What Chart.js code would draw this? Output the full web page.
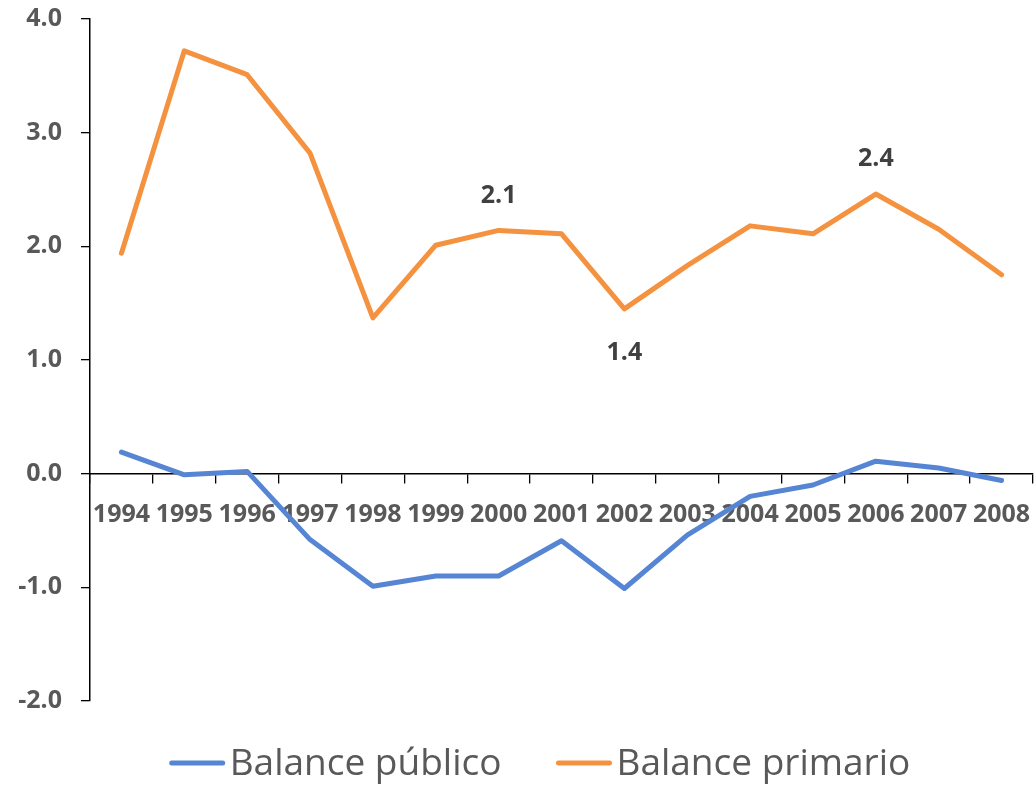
<!DOCTYPE html>
<html>
<head>
<meta charset="utf-8">
<script src="https://cdn.jsdelivr.net/npm/chart.js@4.4.1/dist/chart.umd.min.js"></script>
<style>
  html, body { margin: 0; padding: 0; background: #ffffff; }
  #wrap { width: 1036px; height: 788px; position: relative; }
</style>
</head>
<body>
<div id="wrap"><canvas id="c" width="1036" height="788"></canvas></div>
<script>
const years = ['1994','1995','1996','1997','1998','1999','2000','2001','2002','2003','2004','2005','2006','2007','2008'];
const balancePublico = [0.19, -0.01, 0.02, -0.58, -0.99, -0.90, -0.90, -0.59, -1.01, -0.54, -0.20, -0.10, 0.11, 0.05, -0.06];
const balancePrimario = [1.94, 3.72, 3.51, 2.82, 1.37, 2.01, 2.14, 2.11, 1.45, 1.83, 2.18, 2.11, 2.46, 2.15, 1.75];
const seriesNames = ['Balance público', 'Balance primario'];
const yTicks = [-2, -1, 0, 1, 2, 3, 4];
const labelIndices = [6, 8, 12];
const labelTexts = ['2.1', '1.4', '2.4'];
const labelSides = ['above', 'below', 'above'];

const BLUE = '#5585D3';
const ORANGE = '#F4923F';
const AXIS_TEXT = '#595959';
const LEFT_PAD = 4;

const dataLabelPlugin = {
  id: 'dataLabels',
  afterDatasetsDraw(chart) {
    const meta = chart.getDatasetMeta(1);
    const ctx = chart.ctx;
    ctx.save();
    ctx.font = 'bold 25px "Open Sans"';
    ctx.fillStyle = '#404040';
    ctx.textAlign = 'center';
    ctx.textBaseline = 'middle';
    labelIndices.forEach((idx, k) => {
      const pt = meta.data[idx];
      const dy = labelSides[k] === 'above' ? -35 : 44;
      ctx.fillText(labelTexts[k], pt.x, pt.y + dy);
    });
    ctx.restore();
  }
};

// Legend drawn from the chart's own datasets (label + colour)
const legendPlugin = {
  id: 'bottomLegend',
  afterDraw(chart) {
    const ctx = chart.ctx;
    const ds = chart.data.datasets;
    const lineLen = 55, gapText = 5, gapItem = 55;
    ctx.save();
    ctx.font = '37px "Open Sans"';
    const widths = ds.map(d => ctx.measureText(d.label).width);
    const total = widths.reduce((s, w) => s + lineLen + gapText + w, 0) + gapItem * (ds.length - 1);
    let x = chart.width / 2 + 22 - total / 2;
    const y = 763;
    ds.forEach((d, i) => {
      ctx.strokeStyle = d.borderColor;
      ctx.lineWidth = 5;
      ctx.lineCap = 'round';
      ctx.beginPath();
      ctx.moveTo(x + 2, y);
      ctx.lineTo(x + lineLen - 2, y);
      ctx.stroke();
      ctx.fillStyle = AXIS_TEXT;
      ctx.textAlign = 'left';
      ctx.textBaseline = 'middle';
      ctx.fillText(d.label, x + lineLen + gapText, y + 1);
      x += lineLen + gapText + widths[i] + gapItem;
    });
    ctx.restore();
  }
};

new Chart(document.getElementById('c'), {
  type: 'line',
  data: {
    labels: years,
    datasets: [
      { label: seriesNames[0], data: balancePublico, borderColor: BLUE, backgroundColor: BLUE, borderWidth: 5, pointRadius: 0, tension: 0, borderJoinStyle: 'round', borderCapStyle: 'round' },
      { label: seriesNames[1], data: balancePrimario, borderColor: ORANGE, backgroundColor: ORANGE, borderWidth: 5, pointRadius: 0, tension: 0, borderJoinStyle: 'round', borderCapStyle: 'round' }
    ]
  },
  options: {
    responsive: false,
    animation: false,
    devicePixelRatio: 1,
    layout: { padding: { left: LEFT_PAD, right: 3, top: 19, bottom: 87 } },
    plugins: {
      tooltip: { enabled: false },
      legend: { display: false }
    },
    scales: {
      x: {
        type: 'category',
        position: { y: 0 },
        offset: true,
        afterFit(scale) { scale.paddingLeft = 0; scale.paddingRight = 0; },
        grid: { display: true, offset: true, drawOnChartArea: false, drawTicks: true, tickLength: 9, color: '#000', lineWidth: 1.3 },
        border: { display: true, color: '#000', width: 1.5 },
        ticks: { autoSkip: false, maxRotation: 0, minRotation: 0, padding: 17, color: AXIS_TEXT, font: { family: '"Open Sans"', size: 25, weight: 'bold' } }
      },
      y: {
        min: -2, max: 4,
        afterBuildTicks(scale) { scale.ticks = yTicks.map(v => ({ value: v })); },
        afterFit(scale) { scale.width = 90 - LEFT_PAD; scale.paddingTop = 0; scale.paddingBottom = 0; },
        grid: { display: true, drawOnChartArea: false, drawTicks: true, tickLength: 9, color: '#000', lineWidth: 1.3 },
        border: { display: true, color: '#000', width: 1.5 },
        ticks: { padding: 19, color: AXIS_TEXT, font: { family: '"Open Sans"', size: 25, weight: 'bold' }, callback: v => Number(v).toFixed(1) }
      }
    }
  },
  plugins: [dataLabelPlugin, legendPlugin]
});
</script>
</body>
</html>
